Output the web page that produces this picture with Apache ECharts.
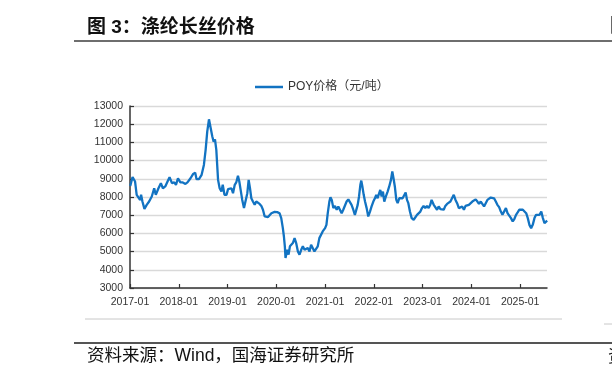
<!DOCTYPE html>
<html>
<head>
<meta charset="utf-8">
<title>涤纶长丝价格</title>
<script src="https://cdn.jsdelivr.net/npm/echarts@6/dist/echarts.min.js"></script>
<style>
  html, body { margin: 0; padding: 0; background: #fff; }
  #main { width: 612px; height: 378px; }
</style>
</head>
<body>
<div id="main"></div>
<script>
// 数据：POY价格（元/吨），读自原图
var dates = [
  '2017-01-03','2017-01-20','2017-01-27','2017-02-08','2017-02-20','2017-03-05','2017-03-17','2017-03-25',
  '2017-04-04','2017-04-19','2017-05-06','2017-05-24','2017-06-13','2017-07-01','2017-07-13','2017-08-02',
  '2017-08-20','2017-09-04','2017-09-22','2017-10-09','2017-10-24','2017-11-11','2017-11-28','2017-12-11',
  '2017-12-26','2018-01-13','2018-01-31','2018-02-20','2018-03-07','2018-03-30','2018-04-19','2018-05-04',
  '2018-05-14','2018-06-01','2018-06-21','2018-07-08','2018-07-21','2018-08-02','2018-08-15','2018-08-27',
  '2018-09-09','2018-09-19','2018-09-29','2018-10-09','2018-10-22','2018-11-03','2018-11-16','2018-11-26',
  '2018-12-09','2018-12-24','2019-01-05','2019-01-17','2019-01-30','2019-02-11','2019-02-24','2019-03-07',
  '2019-03-20','2019-03-30','2019-04-09','2019-04-21','2019-05-04','2019-05-16','2019-05-29','2019-06-08',
  '2019-06-18','2019-06-28','2019-07-10','2019-07-23','2019-08-04','2019-08-17','2019-08-29','2019-09-11',
  '2019-09-23','2019-10-06','2019-10-18','2019-10-31','2019-11-12','2019-11-25','2019-12-07','2019-12-19',
  '2020-01-08','2020-01-25','2020-02-07','2020-02-19','2020-02-27','2020-03-05','2020-03-10','2020-03-23',
  '2020-04-02','2020-04-12','2020-04-22','2020-05-04','2020-05-17','2020-05-29','2020-06-11','2020-06-23',
  '2020-07-06','2020-07-18','2020-07-31','2020-08-12','2020-08-24','2020-09-06','2020-09-18','2020-10-01',
  '2020-10-13','2020-10-25','2020-11-07','2020-11-19','2020-12-01','2020-12-14','2020-12-22','2021-01-01',
  '2021-01-11','2021-01-21','2021-02-02','2021-02-10','2021-02-20','2021-03-04','2021-03-16','2021-03-29',
  '2021-04-10','2021-04-22','2021-05-05','2021-05-17','2021-05-30','2021-06-11','2021-06-24','2021-07-06',
  '2021-07-18','2021-07-31','2021-08-12','2021-08-23','2021-09-02','2021-09-12','2021-09-22','2021-09-29',
  '2021-10-07','2021-10-17','2021-10-27','2021-11-08','2021-11-20','2021-12-03','2021-12-15','2021-12-28',
  '2022-01-09','2022-01-19','2022-01-29','2022-02-08','2022-02-18','2022-02-28','2022-03-10','2022-03-20',
  '2022-04-01','2022-04-14','2022-04-26','2022-05-09','2022-05-19','2022-05-28','2022-06-07','2022-06-18',
  '2022-06-28','2022-07-10','2022-07-23','2022-08-04','2022-08-17','2022-08-27','2022-09-06','2022-09-16',
  '2022-09-28','2022-10-11','2022-10-26','2022-11-07','2022-11-20','2022-12-02','2022-12-15','2022-12-27',
  '2023-01-08','2023-01-21','2023-02-02','2023-02-15','2023-02-27','2023-03-09','2023-03-15','2023-03-25',
  '2023-04-06','2023-04-19','2023-05-01','2023-05-14','2023-05-26','2023-06-08','2023-06-20','2023-07-03',
  '2023-07-15','2023-07-28','2023-08-10','2023-08-22','2023-09-04','2023-09-16','2023-09-29','2023-10-11',
  '2023-10-24','2023-11-06','2023-11-18','2023-12-01','2023-12-13','2023-12-26','2024-01-08','2024-01-21',
  '2024-02-02','2024-02-15','2024-02-27','2024-03-11','2024-03-23','2024-04-05','2024-04-17','2024-04-30',
  '2024-05-13','2024-05-25','2024-06-07','2024-06-19','2024-07-02','2024-07-14','2024-07-27','2024-08-09',
  '2024-08-21','2024-09-03','2024-09-16','2024-09-28','2024-10-11','2024-10-24','2024-11-06','2024-11-18',
  '2024-12-01','2024-12-13','2024-12-26','2025-01-08','2025-01-21','2025-02-02','2025-02-15','2025-02-27',
  '2025-03-11','2025-03-24','2025-04-05','2025-04-18','2025-04-30','2025-05-13','2025-05-26','2025-06-08',
  '2025-06-20','2025-07-02','2025-07-15','2025-07-22'
];
var prices = [
  8600, 9100, 9050, 8850, 8120, 8030, 7840, 8120,
  7750, 7350, 7570, 7750, 8030, 8480, 8120, 8480,
  8760, 8480, 8580, 8850, 9090, 8760, 8800, 8670,
  9030, 8800, 8800, 8720, 8800, 9030, 9270, 9340,
  8980, 8980, 9220, 9760, 10590, 11590, 12270, 12230,
  11320, 11040, 11170, 10590, 8940, 8480, 8300, 8670,
  8120, 8120, 8430, 8390, 8480, 8210, 8670, 8800,
  9160, 8850, 8390, 7840, 7390, 7440, 8210, 8940,
  8480, 7930, 7750, 7570, 7750, 7840, 7620, 7510,
  7300, 6930, 6840, 6900, 6930, 7110, 7170, 7180,
  7170, 7110, 6840, 6290, 5830, 5290, 4650, 5100,
  4830, 5290, 5200, 5470, 5740, 5470, 5010, 4830,
  5100, 5290, 5100, 5010, 5200, 5010, 5380, 5290,
  5010, 5100, 5290, 5740, 5830, 6110, 6020, 6290,
  6470, 7110, 7750, 7990, 7840, 7390, 7510, 7300,
  7480, 7390, 7110, 7300, 7200, 7750, 7870, 7840,
  7570, 7300, 7020, 7110, 7570, 8030, 8670, 8900,
  8580, 8120, 7750, 7390, 6930, 7200, 7480, 7750,
  7930, 8120, 7930, 8170, 8390, 8030, 8300, 7750,
  8030, 8300, 8580, 8940, 9400, 9030, 8580, 7840,
  7660, 7930, 7870, 7930, 7930, 8250, 7840, 7660,
  7200, 6840, 6750, 6840, 7020, 7110, 7200, 7390,
  7510, 7390, 7510, 7390, 7570, 7840, 7900, 7570,
  7480, 7300, 7480, 7330, 7390, 7300, 7510, 7620,
  7570, 7750, 7840, 8120, 7840, 7660, 7390, 7300,
  7480, 7300, 7510, 7480, 7570, 7510, 7750, 7840,
  7870, 7750, 7620, 7750, 7660, 7480, 7390, 7840,
  7870, 7970, 8030, 7930, 7750, 7570, 7440, 7200,
  7020, 7020, 7390, 7110, 7020, 6840, 6660, 6790,
  7020, 7150, 7300, 7330, 7300, 7300, 7110, 6840,
  6470, 6290, 6470, 6840, 7020, 6930, 7020, 7200,
  6840, 6570, 6660, 6700
];
var yearTicks = [2017, 2018, 2019, 2020, 2021, 2022, 2023, 2024, 2025];
var seriesName = 'POY价格（元/吨）';

// 日期转成小数年份，用于数值型x轴
function toYear(s) {
  var p = s.split('-');
  var y = +p[0];
  var t = Date.UTC(y, +p[1] - 1, +p[2]);
  var t0 = Date.UTC(y, 0, 1), t1 = Date.UTC(y + 1, 0, 1);
  return y + (t - t0) / (t1 - t0);
}

var lineData = [];
for (var i = 0; i < dates.length; i++) {
  lineData.push([toYear(dates[i]), prices[i]]);
}

var numFont = 'Liberation Sans, Arial, Noto Sans CJK SC, sans-serif';
var lineColor = '#1273c2';
var myChart = echarts.init(document.getElementById('main'), null, { renderer: 'canvas' });
var option = {
  backgroundColor: '#fff',
  animation: false,
  title: {
    text: '图 3：涤纶长丝价格',
    left: 82,
    top: 13,
    textStyle: {
      fontFamily: 'Liberation Sans, Noto Sans CJK SC',
      fontWeight: 'bold',
      fontSize: 19,
      color: '#111'
    }
  },
  legend: {
    data: [seriesName],
    left: 250,
    top: 76,
    icon: 'rect',
    itemWidth: 28,
    itemHeight: 2.5,
    itemGap: 5,
    textStyle: {
      fontFamily: 'Liberation Sans, Noto Sans CJK SC',
      fontSize: 12,
      color: '#333'
    }
  },
  grid: {
    left: 130,
    right: 65,
    top: 106,
    bottom: 90
  },
  xAxis: {
    type: 'value',
    min: 2017,
    max: 2025.55,
    interval: 1,
    splitLine: { show: false },
    axisLine: { lineStyle: { color: '#333', width: 1.5 } },
    axisTick: {
      inside: true,
      length: 4,
      customValues: yearTicks,
      lineStyle: { color: '#333', width: 1.2 }
    },
    axisLabel: {
      customValues: yearTicks,
      formatter: function (v) { return v + '-01'; },
      fontFamily: numFont,
      fontSize: 10.5,
      color: '#333',
      margin: 9
    }
  },
  yAxis: {
    type: 'value',
    min: 3000,
    max: 13000,
    interval: 1000,
    axisLine: { show: true, lineStyle: { color: '#333', width: 1.5 } },
    axisTick: { show: true, inside: true, length: 4, lineStyle: { color: '#333', width: 1.2 } },
    axisLabel: {
      formatter: function (v) { return String(v); },
      fontFamily: numFont,
      fontSize: 10.5,
      color: '#333',
      margin: 7
    },
    splitLine: { lineStyle: { color: '#d9d9d9', width: 1.3 } }
  },
  series: [{
    name: seriesName,
    type: 'line',
    data: lineData,
    showSymbol: false,
    symbol: 'none',
    lineStyle: { color: lineColor, width: 2.3 },
    itemStyle: { color: lineColor }
  }],
  graphic: [
    // 标题下横线
    { type: 'line', shape: { x1: 74, y1: 41, x2: 612, y2: 41 }, style: { stroke: '#6e6e6e', lineWidth: 2 } },
    // 右侧被裁掉的相邻标题
    { type: 'text', left: 610, top: 15, style: { text: '图', font: 'bold 19px "Noto Sans CJK SC"', fill: '#111' } },
    // 图表下方浅灰线
    { type: 'line', shape: { x1: 85, y1: 319, x2: 562, y2: 319 }, style: { stroke: '#c8c8c8', lineWidth: 1 } },
    { type: 'line', shape: { x1: 604, y1: 324, x2: 612, y2: 324 }, style: { stroke: '#c8c8c8', lineWidth: 1 } },
    // 资料来源上方横线
    { type: 'line', shape: { x1: 74, y1: 343, x2: 612, y2: 343 }, style: { stroke: '#555', lineWidth: 2 } },
    {
      type: 'text', left: 87, top: 347,
      style: { text: '资料来源：Wind，国海证券研究所', font: '17.5px "Liberation Sans", "Noto Sans CJK SC"', fill: '#111' }
    },
    { type: 'text', left: 608, top: 347, style: { text: '资', font: '17.5px "Noto Sans CJK SC"', fill: '#111' } }
  ]
};
myChart.setOption(option);
</script>
</body>
</html>
